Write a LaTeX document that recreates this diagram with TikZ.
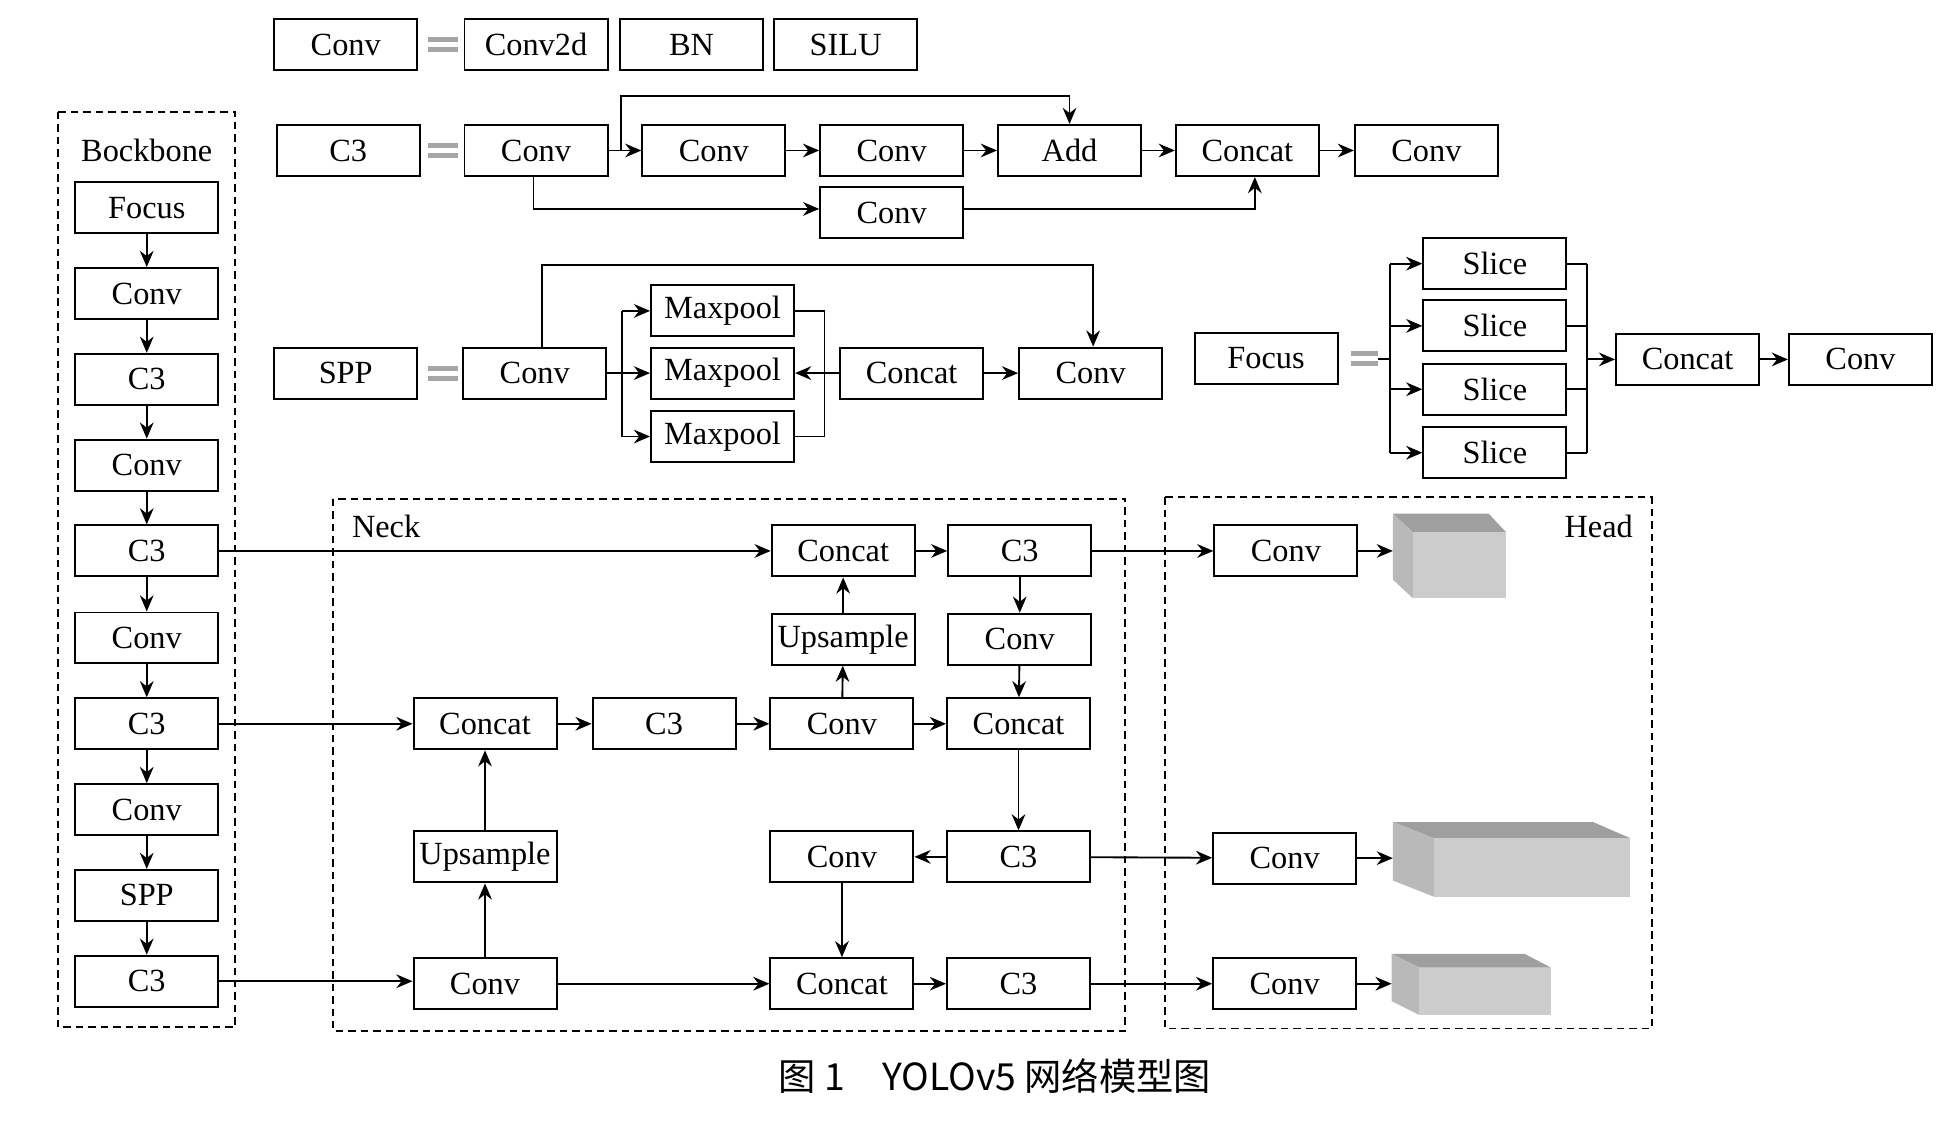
\documentclass[tikz,border=0pt]{standalone}
\usepackage{fontspec}
\setmainfont{Liberation Serif}
\newfontfamily\cjk{Noto Sans CJK SC}
\usetikzlibrary{arrows.meta}
\begin{document}
\begin{tikzpicture}[x=0.5pt,y=-0.5pt,
 bx/.style={draw,line width=0.8pt,minimum width=57.5pt,minimum height=20.5pt,inner sep=0pt,font=\fontsize{13}{13}\selectfont},
 ar/.style={line width=0.75pt,-{Stealth[length=6.5pt,width=5.5pt]}},
 ln/.style={line width=0.75pt},
 dsh/.style={line width=0.8pt,dash pattern=on 3pt off 2pt},
 eq/.style={gray!70,line width=2pt},
 lab/.style={font=\fontsize{13}{13}\selectfont}]
\useasboundingbox (0,0) rectangle (1568,901);
\fill[white] (0,0) rectangle (1568,901);
% Conv definition
\node[bx] (d1) at (278,36) {Conv};
\node[bx] (d2) at (431,36) {Conv2d};
\node[bx] (d3) at (556,36) {BN};
\node[bx] (d4) at (680,36) {SILU};
\foreach \y in {121,300} {\draw[eq] (344,\y-4) -- (368,\y-4); \draw[eq] (344,\y+4) -- (368,\y+4);}
\draw[eq] (344,32) -- (368,32); \draw[eq] (344,40) -- (368,40);
% C3 definition
\node[bx] (c0) at (280,121) {C3};
\node[bx] (c1) at (431,121) {Conv};
\node[bx] (c2) at (574,121) {Conv};
\node[bx] (c3) at (717,121) {Conv};
\node[bx] (c4) at (860,121) {Add};
\node[bx] (c5) at (1003,121) {Concat};
\node[bx] (c6) at (1147,121) {Conv};
\node[bx] (c7) at (717,171) {Conv};
\draw[ar] (c1) -- (c2);
\draw[ar] (c2) -- (c3);
\draw[ar] (c3) -- (c4);
\draw[ar] (c4) -- (c5);
\draw[ar] (c5) -- (c6);
\draw[ar] (499,121) -- (499,77) -- (860,77) -- (c4.north);
\draw[ar] (c1.south -| 429,0) -- (429,168) -- (c7.west |- 0,168);
\draw[ar] (c7.east |- 0,168) -- (1009,168) -- (c5.south -| 1009,0);
% SPP definition
\node[bx] (s0) at (278,300) {SPP};
\node[bx] (s1) at (430,300) {Conv};
\node[bx] (m1) at (581,250) {Maxpool};
\node[bx] (m2) at (581,300) {Maxpool};
\node[bx] (m3) at (581,351) {Maxpool};
\node[bx] (s2) at (733,300) {Concat};
\node[bx] (s3) at (877,300) {Conv};
\draw[ar] (s1.north -| 436,0) -- (436,213) -- (879,213) -- (s3.north -| 879,0);
\draw[ln] (s1) -- (500,300);
\draw[ln] (500,250) -- (500,351);
\draw[ar] (500,250) -- (m1); \draw[ar] (500,300) -- (m2); \draw[ar] (500,351) -- (m3);
\draw[ln] (m1.east) -- (663,250) -- (663,351) -- (m3.east);
\draw[ar] (s2) -- (m2);
\draw[ar] (s2) -- (s3);
% Focus definition
\node[bx] (f0) at (1018,288) {Focus};
\draw[eq] (1086,284) -- (1108,284); \draw[eq] (1086,292) -- (1108,292);
\node[bx] (l1) at (1202,212) {Slice};
\node[bx] (l2) at (1202,262) {Slice};
\node[bx] (l3) at (1202,313) {Slice};
\node[bx] (l4) at (1202,364) {Slice};
\node[bx] (f1) at (1357,289) {Concat};
\node[bx] (f2) at (1496,289) {Conv};
\draw[ln] (1108,289) -- (1118,289);
\draw[ln] (1118,212) -- (1118,364);
\foreach \n/\y in {l1/212,l2/262,l3/313,l4/364} {\draw[ar] (1118,\y) -- (\n.west); \draw[ln] (\n.east) -- (1276,\y);}
\draw[ln] (1276,212) -- (1276,364);
\draw[ar] (1276,289) -- (f1);
\draw[ar] (f1) -- (f2);
% Backbone
\draw[dsh] (47,90) rectangle (189,826);
\node[lab] at (118,121) {Bockbone};
\node[bx] (b1) at (118,167) {Focus};
\node[bx] (b2) at (118,236) {Conv};
\node[bx] (b3) at (118,305) {C3};
\node[bx] (b4) at (118,374) {Conv};
\node[bx] (b5) at (118,443) {C3};
\node[bx] (b6) at (118,513) {Conv};
\node[bx] (b7) at (118,582) {C3};
\node[bx] (b8) at (118,651) {Conv};
\node[bx] (b9) at (118,720) {SPP};
\node[bx] (b10) at (118,789) {C3};
\foreach \a/\b in {b1/b2,b2/b3,b3/b4,b4/b5,b5/b6,b6/b7,b7/b8,b8/b9,b9/b10} \draw[ar] (\a) -- (\b);
% Neck
\draw[dsh] (268,401) rectangle (905,829);
\node[lab,anchor=west] at (276,423) {Neck};
\node[bx] (n1) at (678,443) {Concat};
\node[bx] (n2) at (820,443) {C3};
\node[bx] (n3) at (678,514) {Upsample};
\node[bx] (n4) at (820,514) {Conv};
\node[bx] (n5) at (390,582) {Concat};
\node[bx] (n6) at (534,582) {C3};
\node[bx] (n7) at (677,582) {Conv};
\node[bx] (n8) at (819,582) {Concat};
\node[bx] (n9) at (390,689) {Upsample};
\node[bx] (n10) at (677,689) {Conv};
\node[bx] (n11) at (819,689) {C3};
\node[bx] (n12) at (390,791) {Conv};
\node[bx] (n13) at (677,791) {Concat};
\node[bx] (n14) at (819,791) {C3};
\draw[ar] (b5) -- (n1);
\draw[ar] (b7) -- (n5);
\draw[ar] (b10.east) -- (n12.west |- b10.east);
\draw[ar] (n12) -- (n9);
\draw[ar] (n9) -- (n5);
\draw[ar] (n5) -- (n6);
\draw[ar] (n6) -- (n7);
\draw[ar] (n7) -- (n8);
\draw[ar] (n7) -- (n3);
\draw[ar] (n3) -- (n1);
\draw[ar] (n1) -- (n2);
\draw[ar] (n2) -- (n4);
\draw[ar] (n4) -- (n8);
\draw[ar] (n8) -- (n11);
\draw[ar] (n11) -- (n10);
\draw[ar] (n10) -- (n13);
\draw[ar] (n12) -- (n13);
\draw[ar] (n13) -- (n14);
% Head
\draw[dsh] (937,400) rectangle (1328,827);
\node[lab,anchor=east] at (1320,423) {Head};
\node[bx] (h1) at (1034,443) {Conv};
\node[bx] (h2) at (1033,690) {Conv};
\node[bx] (h3) at (1033,791) {Conv};
\draw[ar] (n2) -- (h1);
\draw[ar] (n11) -- (h2);
\draw[ar] (n14) -- (h3);
% blocks
\foreach \L/\BR/\FL/\R/\T/\FT/\B/\nm in {1120/1197/1136/1211/413/428/481/k1,1120/1281/1153/1311/661/674/721/k2,1119/1226/1141/1247/767/778/816/k3} {
 \fill[gray!75] (\L,\T) -- (\BR,\T) -- (\R,\FT) -- (\FL,\FT) -- cycle;
 \fill[gray!55] (\L,\T) -- (\FL,\FT) -- (\FL,\B) -- (\L,\B-\FT+\T) -- cycle;
 \fill[gray!40] (\FL,\FT) rectangle (\R,\B);
 \coordinate (\nm) at (\L,{(\T+\B-\FT+\T)/2});
}
\draw[ar] (h1) -- (h1 -| k1);
\draw[ar] (h2) -- (h2 -| k2);
\draw[ar] (h3) -- (h3 -| k3);
% caption
\node[font=\cjk\fontsize{15}{15}\selectfont] at (800,865) {图 1\quad YOLOv5 网络模型图};
\end{tikzpicture}
\end{document}
